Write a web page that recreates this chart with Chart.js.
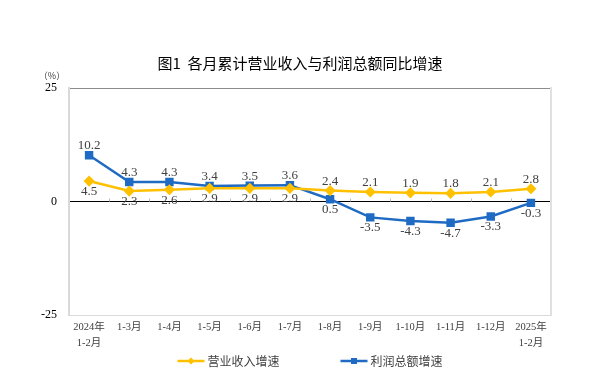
<!DOCTYPE html>
<html><head><meta charset="utf-8">
<script src="https://cdn.jsdelivr.net/npm/chart.js@4.4.1/dist/chart.umd.min.js"></script>
<style>html,body{margin:0;padding:0;background:#fff;}#wrap{width:600px;height:383px;}</style>
</head><body><div id="wrap"><canvas id="c" width="600" height="383"></canvas></div>
<script>
const categories = [["2024年","1-2月"],"1-3月","1-4月","1-5月","1-6月","1-7月","1-8月","1-9月","1-10月","1-11月","1-12月",["2025年","1-2月"]];
const revenueGrowth = [4.5,2.3,2.6,2.9,2.9,2.9,2.4,2.1,1.9,1.8,2.1,2.8];
const profitGrowth = [10.2,4.3,4.3,3.4,3.5,3.6,0.5,-3.5,-4.3,-4.7,-3.3,-0.3];
const yTicks = [-25, 0, 25];
const seriesNames = ["营业收入增速","利润总额增速"];
const titleText = "图1  各月累计营业收入与利润总额同比增速";
const unitText = "（%）";

const YELLOW = "#FFC000";
const BLUE = "#1F6BC4";
const SERIF = "'Liberation Serif','Noto Sans CJK SC',serif";
const CJK = "'Noto Sans CJK SC','Liberation Serif',sans-serif";

const dataLabels = {
  id: "dataLabels",
  afterDatasetsDraw(chart) {
    const ctx = chart.ctx;
    const sets = chart.data.datasets;
    ctx.save();
    ctx.font = "13px " + SERIF;
    ctx.fillStyle = "#404040";
    ctx.textAlign = "center";
    ctx.textBaseline = "middle";
    sets.forEach((ds, di) => {
      const other = sets[1 - di].data;
      chart.getDatasetMeta(di).data.forEach((pt, i) => {
        const above = ds.data[i] > other[i];
        ctx.fillText(ds.data[i].toFixed(1), pt.x, pt.y + (above ? -9.5 : 10.5));
      });
    });
    ctx.restore();
  }
};

const extras = {
  id: "extras",
  beforeDatasetsDraw(chart) {
    const ctx = chart.ctx, x = chart.scales.x, y = chart.scales.y;
    const y0 = y.getPixelForValue(0);
    ctx.save();
    ctx.strokeStyle = "#bbbbbb";
    ctx.lineWidth = 1;
    for (let i = 1; i < categories.length; i++) {
      const bx = Math.round((x.getPixelForValue(i - 1) + x.getPixelForValue(i)) / 2) + 0.5;
      ctx.beginPath(); ctx.moveTo(bx, y0 - 3); ctx.lineTo(bx, y0); ctx.stroke();
    }
    ctx.restore();
  },
  afterDraw(chart) {
    const ctx = chart.ctx, a = chart.chartArea;
    ctx.save();
    ctx.font = "9px " + CJK;
    ctx.fillStyle = "#404040";
    ctx.textAlign = "center";
    ctx.textBaseline = "middle";
    ctx.fillText(unitText, a.left - 17, a.top - 12);
    ctx.font = "12px " + CJK;
    ctx.textAlign = "left";
    const lineW = 27, gapT = 3, gapItems = 61;
    const widths = seriesNames.map(n => lineW + gapT + ctx.measureText(n).width);
    const total = widths[0] + gapItems + widths[1];
    let lx = (a.left + a.right) / 2 - total / 2;
    const ly = a.bottom + 46;
    chart.data.datasets.forEach((ds, i) => {
      ctx.strokeStyle = ds.borderColor;
      ctx.lineWidth = 2.5;
      ctx.beginPath(); ctx.moveTo(lx, ly); ctx.lineTo(lx + lineW, ly); ctx.stroke();
      ctx.fillStyle = ds.borderColor;
      const cx = lx + lineW / 2;
      ctx.beginPath();
      if (ds.pointStyle === "rectRot") {
        ctx.moveTo(cx, ly - 3.5); ctx.lineTo(cx + 3.5, ly); ctx.lineTo(cx, ly + 3.5); ctx.lineTo(cx - 3.5, ly);
      } else {
        ctx.rect(cx - 3, ly - 3, 6, 6);
      }
      ctx.closePath(); ctx.fill();
      ctx.fillStyle = "#404040";
      ctx.fillText(seriesNames[i], lx + lineW + gapT, ly);
      lx += widths[i] + gapItems;
    });
    ctx.restore();
  }
};

new Chart(document.getElementById("c"), {
  type: "line",
  data: {
    labels: categories,
    datasets: [
      { label: seriesNames[0], data: revenueGrowth, borderColor: YELLOW, backgroundColor: YELLOW,
        borderWidth: 2.5, pointStyle: "rectRot", pointRadius: 3.8, pointHoverRadius: 3.8, tension: 0 },
      { label: seriesNames[1], data: profitGrowth, borderColor: BLUE, backgroundColor: BLUE,
        borderWidth: 2.5, pointStyle: "rect", pointRadius: 4.2, pointHoverRadius: 4.2, tension: 0 }
    ]
  },
  options: {
    responsive: false,
    devicePixelRatio: 1,
    animation: false,
    layout: { padding: 0 },
    plugins: {
      legend: { display: false },
      tooltip: { enabled: false },
      title: {
        display: true, text: titleText, color: "#000",
        font: { family: CJK, size: 15, weight: "normal", lineHeight: 1.2 },
        padding: { top: 54, bottom: 16 }
      }
    },
    scales: {
      x: {
        offset: true,
        grid: { display: false, drawTicks: false, offset: true },
        border: { display: false },
        ticks: { color: "#404040", font: { family: SERIF, size: 10.5, lineHeight: 1.45 }, padding: 5, maxRotation: 0, autoSkip: false },
        afterFit(s) { s.height = 68; }
      },
      y: {
        min: -25, max: 25,
        afterBuildTicks(s) { s.ticks = yTicks.map(v => ({ value: v })); },
        grid: {
          drawTicks: false,
          color: c => c.tick.value === 0 ? "#000000" : (c.tick.value === 25 ? "#8c8c8c" : "#d9d9d9"),
          lineWidth: 1
        },
        border: { color: "#d9d9d9", width: 2 },
        ticks: { color: "#000", font: { family: SERIF, size: 12 }, padding: 12 },
        afterFit(s) { s.width = 69; }
      },
      y2: {
        position: "right", min: -25, max: 25,
        grid: { display: false, drawTicks: false },
        border: { color: "#e0e0e0", width: 2 },
        ticks: { display: false },
        afterFit(s) { s.width = 49; }
      }
    }
  },
  plugins: [dataLabels, extras]
});
</script></body></html>
